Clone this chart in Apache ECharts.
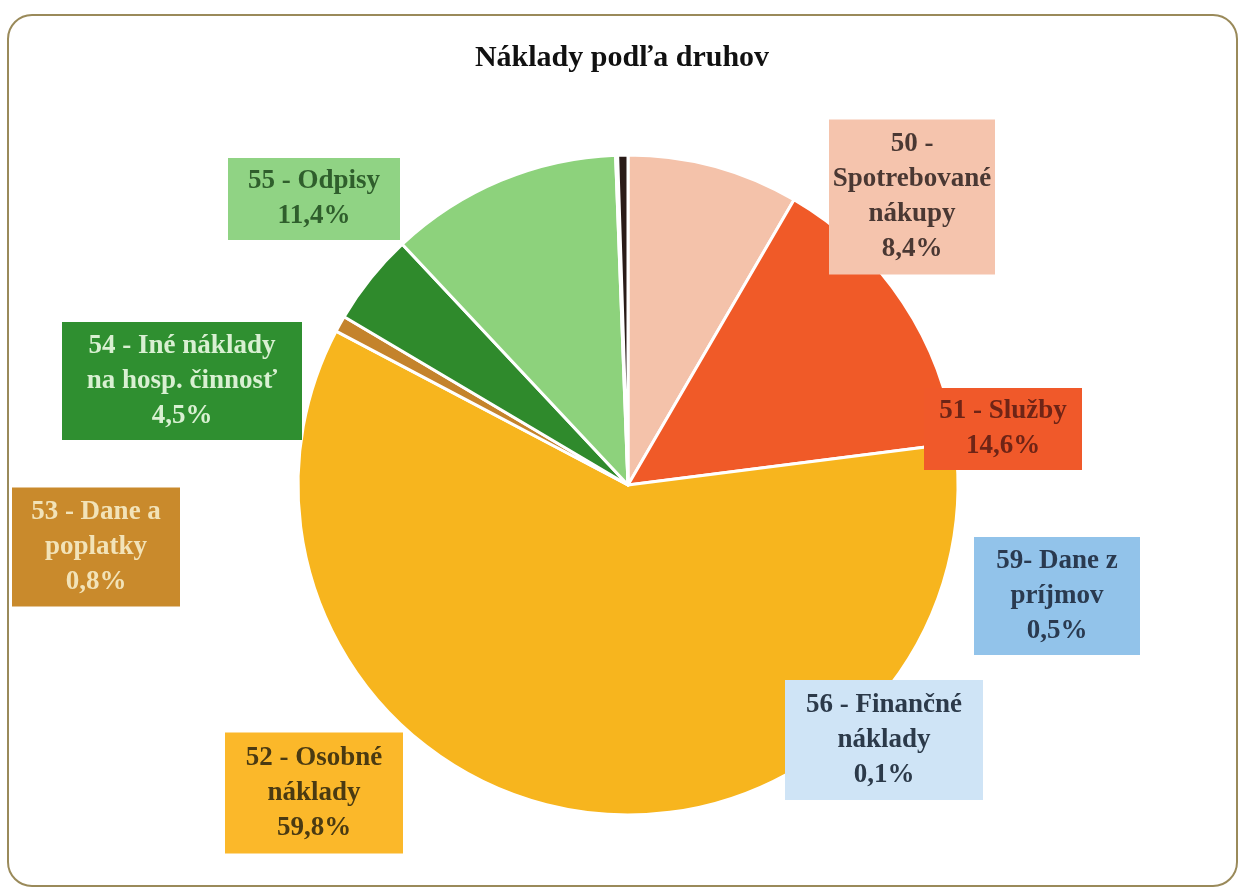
<!DOCTYPE html>
<html>
<head>
<meta charset="utf-8">
<title>Náklady podľa druhov</title>
<script src="https://cdn.jsdelivr.net/npm/echarts@6/dist/echarts.min.js"></script>
<style>
    html, body { margin: 0; padding: 0; background: #ffffff; }
    #naklady { width: 1244px; height: 891px; }
</style>
</head>
<body>
<div id="naklady"></div>
<script>
    // kategorie nakladov (poradie v smere hodinovych ruciciek od 12:00)
    var categories = [
        '50 -\nSpotrebované\nnákupy',
        '51 - Služby',
        '52 - Osobné\nnáklady',
        '53 - Dane a\npoplatky',
        '54 - Iné náklady\nna hosp. činnosť',
        '55 - Odpisy',
        '56 - Finančné\nnáklady',
        '59- Dane z\npríjmov'
    ];
    var shares = [8.4, 14.6, 59.8, 0.8, 4.5, 11.4, 0.1, 0.5];

    var sliceColors = ['#f4c2aa', '#f05a28', '#f7b51e', '#c4832c', '#2f8a2c', '#8dd27c', '#4a2e26', '#2a1b18'];
    var boxColors = ['#f5c4ad', '#f0592a', '#fbb82a', '#c98a2c', '#2f8f30', '#90d384', '#cfe4f6', '#92c3ea'];
    var textColors = ['#4a3833', '#6e2416', '#4a3a12', '#f2e3b8', '#d9f0d2', '#2f5e2c', '#2c3a4a', '#2a3a50'];

    // stredy a velkosti popisnych boxov
    var boxCenters = [[912, 197], [1003, 429], [314, 793], [96, 547], [182, 381], [314, 199], [884, 740], [1057, 596]];
    var boxSizes = [[166, 155], [158, 82], [178, 121], [168, 119], [240, 118], [172, 82], [198, 120], [166, 118]];
    var lineH = 35;

    var chart = echarts.init(document.getElementById('naklady'));

    var data = categories.map(function (name, i) {
        var lines = name.split('\n').length + 1;
        var padY = Math.max(0, (boxSizes[i][1] - lines * lineH) / 2);
        return {
            name: name,
            value: shares[i],
            itemStyle: { color: sliceColors[i] },
            label: {
                color: textColors[i],
                backgroundColor: boxColors[i],
                width: boxSizes[i][0],
                padding: [padY, 0, padY, 0]
            }
        };
    });

    chart.setOption({
        animation: false,
        title: {
            text: 'Náklady podľa druhov',
            left: 'center',
            top: 38,
            textStyle: {
                fontFamily: 'Liberation Serif',
                fontWeight: 'bold',
                fontSize: 30,
                color: '#111'
            }
        },
        graphic: [{
            type: 'rect',
            shape: { x: 8, y: 15, width: 1229, height: 871, r: 24 },
            style: { fill: 'none', stroke: '#9a8a5a', lineWidth: 2 },
            z: -1
        }],
        series: [{
            type: 'pie',
            center: [628, 485],
            radius: 330,
            startAngle: 90,
            clockwise: true,
            avoidLabelOverlap: false,
            itemStyle: {
                borderColor: '#ffffff',
                borderWidth: 3
            },
            label: {
                show: true,
                position: 'outside',
                fontFamily: 'Liberation Serif',
                fontWeight: 'bold',
                fontSize: 27,
                lineHeight: lineH,
                align: 'center',
                formatter: function (p) {
                    return p.name + '\n' + p.value.toFixed(1).replace('.', ',') + '%';
                }
            },
            labelLine: { show: false },
            labelLayout: function (params) {
                var c = boxCenters[params.dataIndex];
                return { x: c[0], y: c[1], align: 'center', verticalAlign: 'middle' };
            },
            emphasis: { disabled: true },
            data: data
        }]
    });
</script>
</body>
</html>
